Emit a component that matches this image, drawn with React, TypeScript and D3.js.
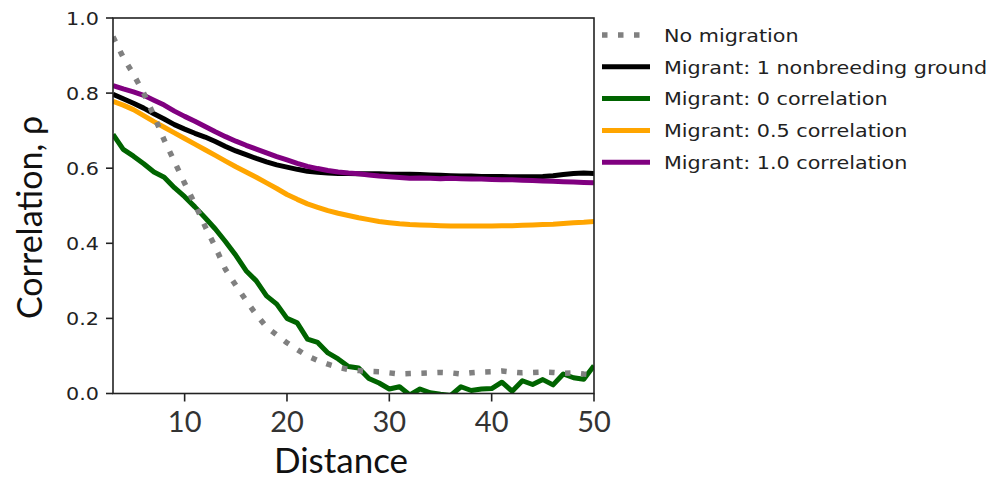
import React from 'react';
import * as d3 from 'd3';

// distance classes on the x axis
const distance = [
  3, 4, 5, 6, 7, 8, 9, 10, 11, 12, 13, 14, 15, 16, 17, 18, 19, 20, 21, 22, 23, 24, 25, 26,
  27, 28, 29, 30, 31, 32, 33, 34, 35, 36, 37, 38, 39, 40, 41, 42, 43, 44, 45, 46, 47, 48, 49, 50,
];

const noMigration = [
  0.95, 0.895, 0.85, 0.8, 0.74, 0.675, 0.618, 0.56, 0.505, 0.445, 0.39, 0.33, 0.288, 0.248, 0.21, 0.177,
  0.156, 0.135, 0.117, 0.1, 0.088, 0.078, 0.07, 0.064, 0.061, 0.059, 0.058, 0.055, 0.052, 0.053, 0.054, 0.055,
  0.056, 0.055, 0.052, 0.055, 0.057, 0.058, 0.06, 0.057, 0.055, 0.056, 0.057, 0.056, 0.054, 0.055, 0.052, 0.05,
];

const migrantOneGround = [
  0.797, 0.785, 0.773, 0.76, 0.745, 0.731, 0.716, 0.704, 0.693, 0.683, 0.671, 0.658, 0.646, 0.636, 0.626, 0.617,
  0.609, 0.603, 0.597, 0.592, 0.589, 0.587, 0.586, 0.586, 0.585, 0.585, 0.585, 0.584, 0.584, 0.584, 0.583, 0.582,
  0.581, 0.58, 0.579, 0.579, 0.578, 0.578, 0.578, 0.577, 0.577, 0.577, 0.578, 0.58, 0.583, 0.586, 0.587, 0.586,
];

const migrantCorr0 = [
  0.69, 0.65, 0.632, 0.612, 0.59, 0.576, 0.548, 0.524, 0.497, 0.468, 0.438, 0.404, 0.368, 0.327, 0.3, 0.26,
  0.238, 0.2, 0.188, 0.145, 0.136, 0.108, 0.092, 0.072, 0.068, 0.04, 0.028, 0.012, 0.018, -0.004, 0.012, 0.002,
  -0.002, -0.005, 0.018, 0.008, 0.012, 0.013, 0.03, 0.006, 0.034, 0.024, 0.037, 0.023, 0.052, 0.042, 0.038, 0.074,
];

const migrantCorr05 = [
  0.778, 0.768, 0.756, 0.74, 0.724, 0.709, 0.694, 0.679, 0.664, 0.649, 0.634, 0.619, 0.604, 0.59, 0.576, 0.561,
  0.546, 0.53, 0.517, 0.505, 0.496, 0.487, 0.48, 0.474, 0.468, 0.463, 0.458, 0.455, 0.452, 0.45, 0.449, 0.448,
  0.447, 0.446, 0.446, 0.446, 0.446, 0.446, 0.447, 0.447, 0.448, 0.449, 0.45, 0.451, 0.453, 0.455, 0.456, 0.458,
];

const migrantCorr10 = [
  0.82, 0.811, 0.803, 0.794, 0.781, 0.768, 0.752, 0.738, 0.725, 0.711, 0.697, 0.684, 0.672, 0.661, 0.651, 0.641,
  0.631, 0.622, 0.613, 0.605, 0.599, 0.594, 0.59, 0.587, 0.585, 0.582, 0.579, 0.577, 0.575, 0.573, 0.574, 0.573,
  0.572, 0.573, 0.572, 0.571, 0.571, 0.57, 0.569, 0.569, 0.568, 0.567, 0.566, 0.565, 0.564, 0.563, 0.562, 0.561,
];

const xTicks = [10, 20, 30, 40, 50];
const yTicks = [0, 0.2, 0.4, 0.6, 0.8, 1.0];

const series = [
  { label: 'No migration', values: noMigration, color: '#808080', dotted: true },
  { label: 'Migrant: 1 nonbreeding ground', values: migrantOneGround, color: '#000000' },
  { label: 'Migrant: 0 correlation', values: migrantCorr0, color: '#006400' },
  { label: 'Migrant: 0.5 correlation', values: migrantCorr05, color: '#FFA500' },
  { label: 'Migrant: 1.0 correlation', values: migrantCorr10, color: '#800080' },
];

// dotted series goes on top, like in the figure
const drawOrder = [1, 2, 3, 4, 0];

const W = 995;
const H = 483;
const plot = { left: 113, right: 594, top: 18, bottom: 393.5 };
const tickFont = "'DejaVu Sans', sans-serif";
const labelFont = "Lato, 'Open Sans', sans-serif";
const stretch = 'scale(1.12,1)';

export default function App() {
  const x = d3.scaleLinear().domain([3, 50]).range([plot.left, plot.right]);
  const y = d3.scaleLinear().domain([0, 1]).range([plot.bottom, plot.top]);

  const line = d3
    .line<number>()
    .x((_, i) => x(distance[i]))
    .y((v) => y(v));

  return (
    <svg
      width={W}
      height={H}
      style={{ position: 'absolute', left: 0, top: 0, background: '#fff' }}
    >
      <defs>
        <clipPath id="plot-clip">
          <rect
            x={plot.left}
            y={plot.top}
            width={plot.right - plot.left}
            height={plot.bottom - plot.top}
          />
        </clipPath>
      </defs>

      {/* lines */}
      <g clipPath="url(#plot-clip)" fill="none">
        {drawOrder.map((k) => {
          const s = series[k];
          return (
            <path
              key={s.label}
              d={line(s.values) || ''}
              stroke={s.color}
              strokeWidth={s.dotted ? 5.5 : 5}
              strokeDasharray={s.dotted ? '5.5 10.5' : undefined}
              strokeLinejoin="round"
            />
          );
        })}
      </g>

      {/* frame */}
      <rect
        x={plot.left}
        y={plot.top}
        width={plot.right - plot.left}
        height={plot.bottom - plot.top}
        fill="none"
        stroke="#222"
        strokeWidth={1.6}
      />

      {/* y axis */}
      {yTicks.map((t) => (
        <g key={t}>
          <line x1={plot.left - 7} x2={plot.left} y1={y(t)} y2={y(t)} stroke="#222" strokeWidth={1.6} />
          <text
            transform={`translate(${plot.left - 14},${y(t) + 6.7}) ${stretch}`}
            textAnchor="end"
            fontFamily={tickFont}
            fontSize={18.5}
            fill="#222"
          >
            {t.toFixed(1)}
          </text>
        </g>
      ))}

      {/* x axis */}
      {xTicks.map((t) => (
        <g key={t}>
          <line x1={x(t)} x2={x(t)} y1={plot.bottom} y2={plot.bottom + 8} stroke="#222" strokeWidth={1.6} />
          <text
            x={x(t)}
            y={432}
            textAnchor="middle"
            fontFamily={labelFont}
            fontSize={29}
            fill="#333"
          >
            {t}
          </text>
        </g>
      ))}

      <text x={341} y={473} textAnchor="middle" fontFamily={labelFont} fontSize={35} fill="#111">
        Distance
      </text>
      <text
        transform="translate(42,217.5) rotate(-90)"
        textAnchor="middle"
        fontFamily={labelFont}
        fontSize={34}
        fill="#111"
      >
        Correlation, ρ
      </text>

      {/* legend */}
      {series.map((s, i) => {
        const cy = 35 + i * 31.8;
        return (
          <g key={s.label}>
            <line
              x1={602}
              x2={650}
              y1={cy}
              y2={cy}
              stroke={s.color}
              strokeWidth={s.dotted ? 5.5 : 5}
              strokeDasharray={s.dotted ? '5.5 10.5' : undefined}
            />
            <text
              transform={`translate(664,${cy + 6.7}) ${stretch}`}
              fontFamily={tickFont}
              fontSize={18.5}
              fill="#222"
            >
              {s.label}
            </text>
          </g>
        );
      })}
    </svg>
  );
}
